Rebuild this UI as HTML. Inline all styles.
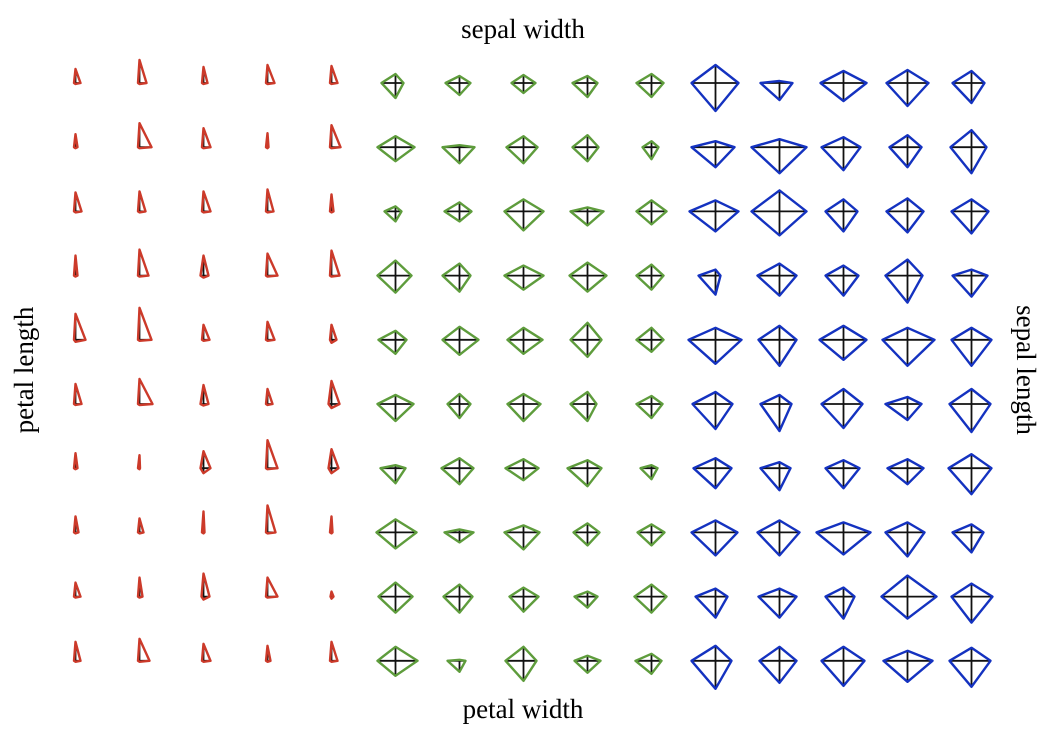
<!DOCTYPE html>
<html><head><meta charset="utf-8">
<style>
html,body{margin:0;padding:0;background:#fff;}
svg{display:block;font-family:"Liberation Serif",serif;}
</style></head>
<body>
<svg id="chart" width="1046" height="748" viewBox="0 0 1046 748">
  <text x="523" y="38" font-size="27" text-anchor="middle">sepal width</text>
  <text x="523" y="718" font-size="27" text-anchor="middle">petal width</text>
  <text transform="translate(33,370) rotate(-90)" font-size="27" text-anchor="middle">petal length</text>
  <text transform="translate(1017,370) rotate(90)" font-size="27" text-anchor="middle">sepal length</text>
  <g id="glyphs"></g>
</svg>
<script>
const species = ["setosa","versicolor","virginica"];
const sepalWidth = [
14,13,19,20,26,20,15,16,14,19, 23,24,20,26,32,25,13,14,19,22, 16,19,20,20,15,19,17,21,23,17,
18,14,22,22,18,15,28,27,19,15, 17,22,17,25,15,23,19,16,5,19,
9,11,5,15,9,9,3,13,14,14, 7,2,9,12,13,10,10,3,12,1, 8,11,12,10,12,10,9,7,9,14,
7,12,4,13,17,12,8,9,5,5, 9,6,11,11,12,8,3,8,12,7,
18,6,11,6,12,12,10,12,8,15, 2,8,21,12,14,9,6,12,8,14, 12,10,12,10,14,15,8,10,9,14,
13,12,13,16,12,7,9,10,21,10, 12,17,12,6,12,15,14,8,13,13];
const sepalLength = [
5,2,6,2,10,6,2,3,5,5, 7,12,6,9,12,13,0.5,4,3,10, 4,7,7,5,6,5,7,1,6,7,
7,1,6,10,7,5,10,8,10,3, 6,9,2,8,5,8,7,1,2,6,
8,19,6,16,11,18,10,21,17,22, 11,15,12,11,19,11,14,14,13,6, 12,14,20,20,19,17,15,16,15,13,
10,11,16,19,14,9,14,12,10,13, 12,7,15,12,12,11,6,13,15,10,
23,19,23,5,26,17,16,22,12,16, 13,27,27,17,17,12,11,20,17,17, 23,17,14,15,23,19,16,27,11,21,
21,14,16,15,27,14,16,17,29,25, 13,15,17,16,20,19,20,12,21,19];
const petalLength = [
1.5,1.5,1.5,1.5,1.5,1.5,1.5,1.5,1.5,1.5, 1.5,1.5,1.5,1.5,1.5,1.5,1.5,1.5,1.5,1.5, 1.5,1.5,1.5,3,1.5,3,3,1.5,2,1.5,
1.5,1.5,1.5,1.5,1.5,1.5,1.5,1.5,1.5,1.5, 1.5,1.5,1.5,1.5,1.5,3,3,1.5,1,1.5,
14,18,11,18,17,18,15,19,17,18, 14,17,15,17,17,12,18,15,16,12, 12,17,19,19,16,16,18,19,14,18,
15,15,17,18,17,17,20,14,13,13, 15,9,15,15,15,15,11,14,17,16,
24,24,26,17,27,23,22,24,20,24, 19,28,28,22,21,19,19,22,21,20, 23,22,18,18,24,22,18,27,18,22,
21,18,21,22,25,22,20,22,26,24, 19,21,20,19,20,22,23,19,20,22];
const petalWidth = [
1,1,1,1,2,1,1,1,1,1, 1,1,1,1,1,1,1,1,1,1, 1,1,1,2,1,1.5,5,1,3,1,
1,1,1,1,1,1,1,1,1,1, 1,1,1,1,3,4,5,1,2,1,
15,14,10,17,14,17,15,16,16,15, 12,16,10,16,15,14,16,10,16,11, 10,16,19,14,14,17,12,17,15,20,
14,14,14,16,17,17,18,13,11,12, 14,12,13,14,12,14,11,13,16,13,
28,20,20,19,24,25,20,23,21,28, 17,26,24,20,26,27,22,23,21,22, 18,23,20,20,20,24,20,22,22,25,
23,20,21,27,26,16,16,24,22,21, 20,26,22,21,26,28,26,20,26,26];

const colors = {setosa:"#cc3a2a", versicolor:"#5e9c3c", virginica:"#1432c0"};
const NS = "http://www.w3.org/2000/svg";
const g = document.getElementById("glyphs");
function xPos(i){ return 75.5 + 64 * Math.floor(i / 10); }
function yPos(i){ return 83 + 64.2 * (i % 10); }
function rScale(v){ return v * 1.0; }

for (let i = 0; i < sepalWidth.length; i++) {
  const cx = xPos(i), cy = yPos(i);
  const sp = species[Math.floor(i / 50)];
  const up = [cx, cy - rScale(sepalWidth[i])];
  const rt = [cx + rScale(sepalLength[i]), cy];
  const dn = [cx, cy + rScale(petalWidth[i])];
  const lf = [cx - rScale(petalLength[i]), cy];
  const grp = document.createElementNS(NS, "g");
  
  
  const rays = document.createElementNS(NS, "path");
  
  
  rays.setAttribute("d", `M${up[0]},${up[1]}L${dn[0]},${dn[1]}M${lf[0]},${lf[1]}L${rt[0]},${rt[1]}`);
  rays.setAttribute("stroke", "#111");
  rays.setAttribute("stroke-width", "1.8");
  rays.setAttribute("fill", "none");
  grp.appendChild(rays);
  const poly = document.createElementNS(NS, "polygon");
  
  
  poly.setAttribute("points", [up, rt, dn, lf].map(p => p.join(",")).join(" "));
  poly.setAttribute("stroke", colors[sp]);
  poly.setAttribute("stroke-width", "2.4");
  poly.setAttribute("stroke-linejoin", "round");
  poly.setAttribute("fill", "none");
  grp.appendChild(poly);
  g.appendChild(grp);
}
</script>
</body></html>
